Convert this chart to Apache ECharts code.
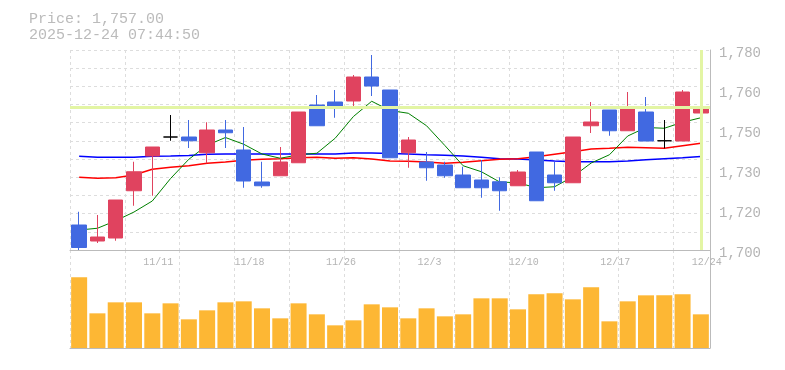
<!DOCTYPE html>
<html>
<head>
<meta charset="utf-8">
<script src="https://cdn.jsdelivr.net/npm/echarts@6/dist/echarts.min.js"></script>
<style>
html,body{margin:0;padding:0;background:#fff;}
#chart{width:785px;height:370px;}
</style>
</head>
<body>
<div id="chart"></div>
<script>
// ---- data ----
const dates = ['11/5','11/6','11/7','11/10','11/11','11/12','11/13','11/14','11/17','11/18','11/19','11/20','11/21','11/25','11/26','11/27','11/28','12/1','12/2','12/3','12/4','12/5','12/8','12/9','12/10','12/11','12/12','12/15','12/16','12/17','12/18','12/19','12/22','12/23','12/24'];
const opens  = [1710,1703.6,1704.8,1723.7,1737.6,1745.2,1745.2,1738.9,1748,1740,1727.2,1729.7,1734.9,1758,1759.2,1759.6,1769.2,1764,1738.9,1735.2,1734,1730,1728,1727.3,1725.7,1739.2,1730,1726.9,1749.7,1756,1747.7,1755.2,1743.7,1743.6,1754.8];
const closes = [1701,1705.2,1720,1731.3,1741.2,1745.2,1743.7,1748,1746.9,1727.6,1725.7,1735.2,1755.2,1749.7,1757.6,1769.2,1765.6,1736.9,1744,1732.9,1729.7,1724.9,1724.9,1723.7,1731.2,1719.7,1726.9,1745.2,1751.2,1747.7,1757.2,1743.6,1743.7,1763.2,1757];
const lows   = [1700,1702.8,1703.7,1717.7,1721.7,1743.7,1740.8,1734.7,1740.8,1724.9,1724.9,1729.7,1734.9,1749.7,1752.9,1756.9,1761.6,1736.9,1732.9,1727.7,1728.9,1724.9,1720.9,1715.7,1725.7,1719.7,1723.7,1726.9,1746.8,1745.7,1747.7,1743.6,1740.7,1743.6,1754.8];
const highs  = [1715.3,1714,1720,1735.3,1741.2,1754,1752,1751.1,1752,1749.2,1735.3,1741.2,1755.2,1762,1764,1770,1778,1764,1745.2,1739.2,1735.3,1733.3,1736,1729.1,1732,1739.2,1735.3,1745.2,1759.2,1756,1763.2,1761.2,1752,1764,1766];
const ma5  = [1708.0,1708.7,1711.7,1715.2,1719.6,1728.6,1736.3,1741.9,1745.0,1742.3,1738.4,1736.7,1738.1,1738.7,1744.7,1753.4,1759.5,1755.8,1754.7,1749.7,1741.8,1733.7,1731.3,1727.2,1726.9,1724.9,1725.3,1729.3,1734.8,1738.1,1745.6,1749.0,1748.7,1751.1,1752.9];
const ma25 = [1729.1,1728.7,1728.9,1730.0,1732.3,1733.1,1733.7,1734.7,1735.2,1735.9,1736.3,1736.5,1736.9,1737.1,1736.7,1736.9,1736.4,1735.6,1735.5,1735.2,1734.7,1735.1,1735.7,1736.3,1736.5,1737.3,1738.3,1739.3,1740.4,1740.7,1741.1,1740.9,1740.7,1741.7,1742.7];
const ma75 = [1737.5,1737.1,1737.1,1737.1,1737.5,1737.6,1737.8,1738.3,1738.4,1738.4,1738.4,1738.4,1738.4,1738.4,1738.4,1738.8,1738.8,1738.6,1738.4,1738.1,1737.9,1737.6,1737.1,1736.5,1736.4,1736.0,1735.6,1735.3,1735.3,1735.3,1735.6,1736.1,1736.5,1736.9,1737.4];
const volumes = [212000,104000,137000,137000,104000,134000,86000,113000,137000,140000,119000,89000,134000,101000,68000,83000,131000,122000,89000,119000,95000,101000,149000,149000,116000,161000,164000,146000,182000,80000,140000,158000,158000,161000,101000];
const yTickLabels = ['1,700','1,720','1,730','1,750','1,760','1,780'];
const currentPrice = 1757;
const titleLines = ['Price: 1,757.00', '2025-12-24 07:44:50'];

// ---- chart ----
const FONT = 'Liberation Mono';
const RED = '#e0435f', BLUE = '#4169e1', VOL = '#fdb734';
const GRIDC = '#dddddd', AXISC = '#bbbbbb', TXT = '#b4b4b4';

const chart = echarts.init(document.getElementById('chart'));
const candleData = dates.map((d, i) => [opens[i], closes[i], lows[i], highs[i]]);

chart.setOption({
  animation: false,
  backgroundColor: '#ffffff',
  title: {
    text: titleLines.join('\n'),
    left: 24, top: 6,
    textStyle: { fontFamily: FONT, fontSize: 15, fontWeight: 'normal', color: '#bbbbbb', lineHeight: 16 }
  },
  grid: [
    { left: 70, top: 50, width: 640, height: 200 },
    { left: 70, top: 250, width: 640, height: 98 }
  ],
  xAxis: [
    { type: 'category', gridIndex: 0, data: dates, boundaryGap: true,
      axisLine: { show: true, lineStyle: { color: AXISC, width: 1 } },
      axisTick: { show: false }, axisLabel: { show: false },
      splitLine: { show: true, lineStyle: { color: GRIDC, type: [3, 3] } } },
    { type: 'category', gridIndex: 0, data: dates.concat(['']), boundaryGap: false, position: 'bottom',
      axisLine: { show: false }, axisTick: { show: false }, splitLine: { show: false },
      axisLabel: { interval: (i) => i % 5 === 4 && i < dates.length, align: 'left', margin: 7,
        color: TXT, fontFamily: FONT, fontSize: 10 } },
    { type: 'category', gridIndex: 1, data: dates, boundaryGap: true, offset: 2,
      axisLine: { show: true, lineStyle: { color: AXISC, width: 1 } },
      axisTick: { show: false }, axisLabel: { show: false },
      splitLine: { show: true, lineStyle: { color: GRIDC, type: [3, 3] } } }
  ],
  yAxis: [
    { type: 'value', gridIndex: 0, min: 1700, max: 1780, show: false },
    { type: 'category', gridIndex: 0, data: yTickLabels, boundaryGap: false, position: 'right',
      axisLine: { show: true, lineStyle: { color: AXISC, width: 1 } },
      axisTick: { show: false }, splitLine: { show: false },
      axisLabel: { margin: 9, verticalAlign: 'middle',
        formatter: (v) => '{a|' + v + '}',
        rich: { a: { color: TXT, fontFamily: FONT, fontSize: 14, padding: [7, 0, 0, 0] } } } },
    { type: 'value', gridIndex: 0, min: 0, max: 11, interval: 1, position: 'left',
      axisLine: { show: false }, axisTick: { show: false }, axisLabel: { show: false },
      splitLine: { show: true, lineStyle: { color: GRIDC, type: [3, 3] } } },
    { type: 'value', gridIndex: 1, min: 0, max: 294000, position: 'right',
      axisLine: { show: true, lineStyle: { color: AXISC, width: 1 } },
      axisTick: { show: false }, axisLabel: { show: false }, splitLine: { show: false } }
  ],
  series: [
    { type: 'line', xAxisIndex: 0, yAxisIndex: 0, data: ma75, symbol: 'none', z: 1,
      lineStyle: { color: '#0000ff', width: 1.5 },
      markLine: { silent: true, symbol: ['none', 'none'], label: { show: false },
        lineStyle: { color: '#e3f5a4', width: 3, type: 'solid' },
        data: [ { yAxis: currentPrice }, { xAxis: dates[dates.length - 1] } ] } },
    { type: 'line', xAxisIndex: 0, yAxisIndex: 0, data: ma25, symbol: 'none', z: 1,
      lineStyle: { color: '#ff0000', width: 1.5 } },
    { type: 'line', xAxisIndex: 0, yAxisIndex: 0, data: ma5, symbol: 'none', z: 1,
      lineStyle: { color: '#008000', width: 1 } },
    { type: 'candlestick', xAxisIndex: 0, yAxisIndex: 0, data: candleData, barWidth: 15, z: 3,
      itemStyle: { color: RED, color0: BLUE, borderColor: RED, borderColor0: BLUE, borderColorDoji: '#000000', borderWidth: 1 } },
    { type: 'bar', xAxisIndex: 2, yAxisIndex: 3, data: volumes, barWidth: 16,
      itemStyle: { color: VOL } }
  ]
});
</script>
</body>
</html>
